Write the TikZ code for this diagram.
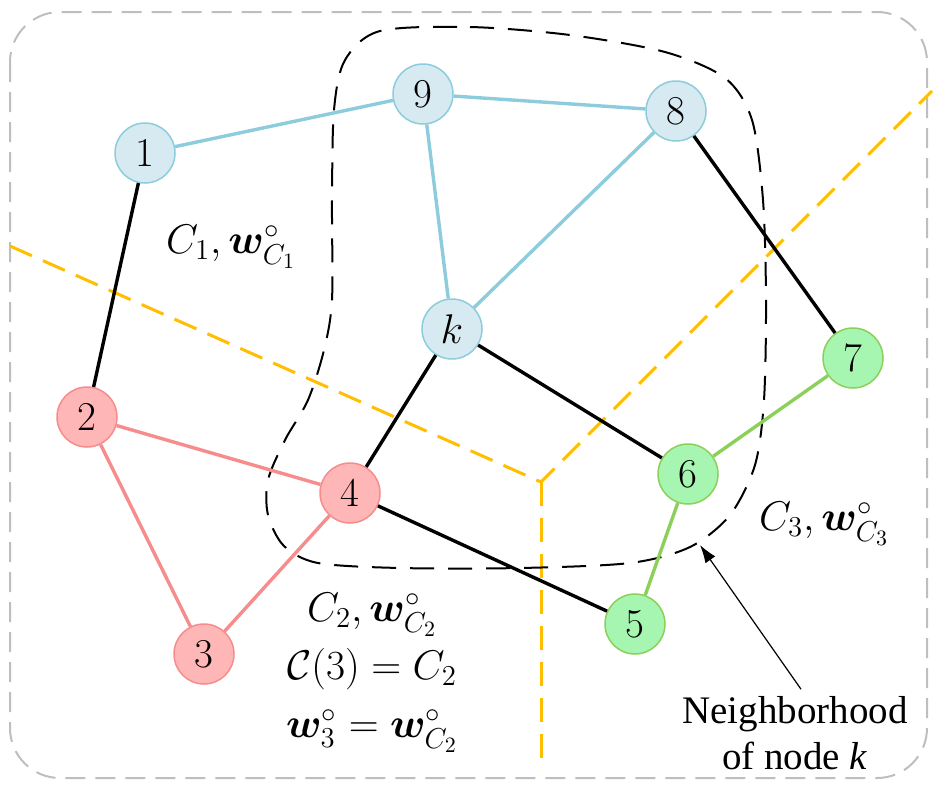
\documentclass[tikz,border=0pt]{standalone}
\usepackage{amsmath,bm}
\usepackage{fontspec}
\newfontfamily\notefont{Liberation Serif}
\usetikzlibrary{arrows.meta}

\definecolor{bluefill}{RGB}{216,234,241}
\definecolor{blueline}{RGB}{140,204,220}
\definecolor{pinkfill}{RGB}{255,182,182}
\definecolor{pinkline}{RGB}{246,140,140}
\definecolor{greenfill}{RGB}{166,246,178}
\definecolor{greenline}{RGB}{140,208,90}
\definecolor{cutline}{RGB}{255,190,0}
\definecolor{framegray}{RGB}{190,190,190}

\tikzset{
  vertex/.style={circle,draw,line width=.75pt,minimum size=30pt,inner sep=0pt,
    font=\fontsize{20.5}{24}\selectfont},
  c1node/.style={vertex,fill=bluefill,draw=blueline},
  c2node/.style={vertex,fill=pinkfill,draw=pinkline},
  c3node/.style={vertex,fill=greenfill,draw=greenline},
  link/.style={line width=1.7pt},
  c1link/.style={link,draw=blueline},
  c2link/.style={link,draw=pinkline},
  c3link/.style={link,draw=greenline},
  crosslink/.style={link,draw=black},
  cut/.style={draw=cutline,line width=1.5pt,dash pattern=on 12pt off 6pt},
  hood/.style={draw=black,line width=1pt,dash pattern=on 12pt off 7pt},
  mathlabel/.style={font=\fontsize{22.5}{29}\selectfont,align=center}
}

\begin{document}
\begin{tikzpicture}[x=.5pt,y=-.5pt]
  \useasboundingbox (0,0) rectangle (937,788);

  % frame
  \draw[framegray,line width=1pt,dash pattern=on 10pt off 5pt,rounded corners=25pt]
    (10,12) rectangle (927,778);

  % cluster boundaries
  \coordinate (mid) at (541,482);
  \coordinate (west) at (10,246);
  \coordinate (ne) at (932,91);
  \coordinate (south) at (541,770);
  \draw[cut] (west) -- (mid) -- (ne);
  \draw[cut] (mid) -- (south);

  % neighborhood of k
  \draw[hood] plot[smooth cycle] coordinates {
    (380,31) (470,27) (570,35) (665,52) (725,78) (752,120) (763,200) (766,300)
    (764,400) (755,465) (730,515) (690,547) (630,563) (520,568) (400,568)
    (318,563) (284,546) (268,515) (268,480) (285,440) (308,400) (324,350)
    (332,300) (332,200) (334,110) (345,60)};

  \begin{scope}
    \node[c1node] (1) at (145,153) {1};
    \node[c1node] (9) at (423,94) {9};
    \node[c1node] (8) at (676,111) {8};
    \node[c1node] (k) at (452,329) {$k$};
    \node[c2node] (2) at (87,417) {2};
    \node[c2node] (4) at (350,493) {4};
    \node[c2node] (3) at (204,654) {3};
    \node[c3node] (7) at (853,358) {7};
    \node[c3node] (6) at (688,474) {6};
    \node[c3node] (5) at (635,624) {5};
  \end{scope}

  \path (1) edge[c1link] (9);
  \path (9) edge[c1link] (8);
  \path (9) edge[c1link] (k);
  \path (8) edge[c1link] (k);
  \path (2) edge[c2link] (4);
  \path (2) edge[c2link] (3);
  \path (3) edge[c2link] (4);
  \path (6) edge[c3link] (7);
  \path (6) edge[c3link] (5);
  \path (1) edge[crosslink] (2);
  \path (8) edge[crosslink] (7);
  \path (k) edge[crosslink] (4);
  \path (k) edge[crosslink] (6);
  \path (4) edge[crosslink] (5);

  % cluster labels
  \node[mathlabel] (lab1) at (231,247) {$C_1, \bm{w}^{\circ}_{C_1}$};
  \node[mathlabel] (lab2) at (372,673)
    {$C_2, \bm{w}^{\circ}_{C_2}$\\ $\mathcal{C}(3) = C_2$\\ $\bm{w}^{\circ}_3 = \bm{w}^{\circ}_{C_2}$};
  \node[mathlabel] (lab3) at (824,524) {$C_3, \bm{w}^{\circ}_{C_3}$};

  \node[font=\notefont\fontsize{19.5}{23}\selectfont,align=center] (note) at (795,733)
    {Neighborhood\\of node \textit{k}};
  \coordinate (tip) at (700,545);
  \draw[line width=.6pt,-{Latex[length=9pt,width=6pt]}] ([xshift=3pt]note.north) -- (tip);
\end{tikzpicture}
\end{document}
